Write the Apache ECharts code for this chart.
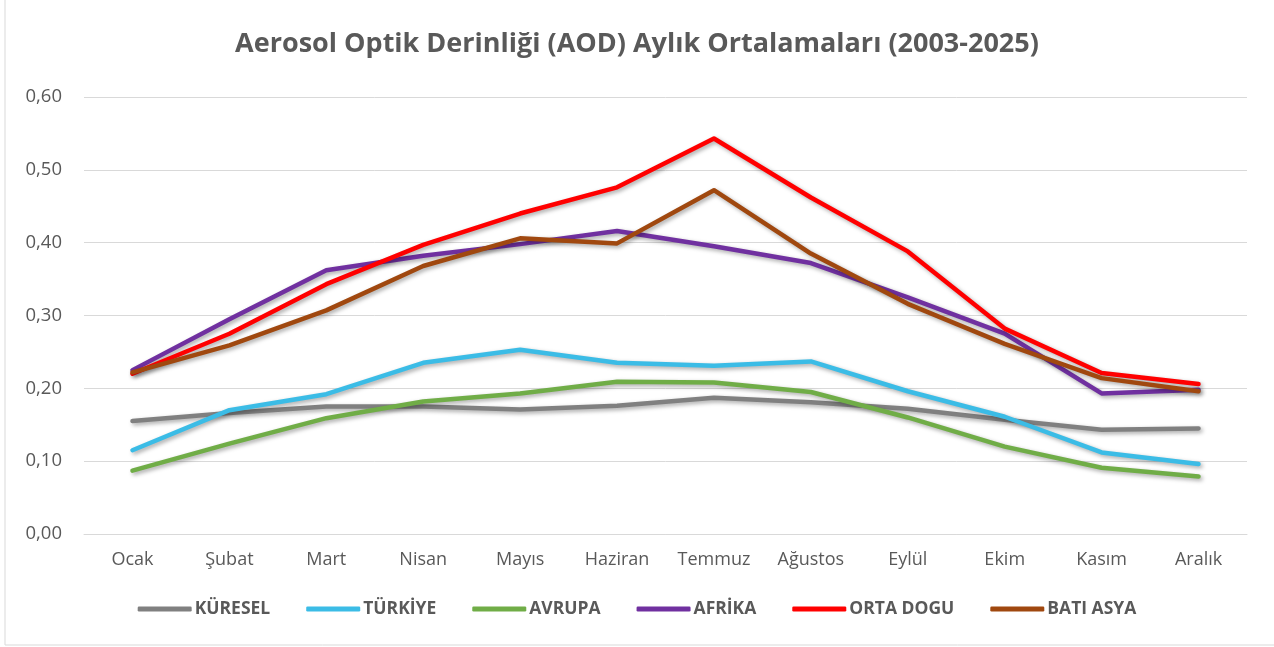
<!DOCTYPE html>
<html>
<head>
<meta charset="utf-8">
<script src="https://cdn.jsdelivr.net/npm/echarts@6/dist/echarts.min.js"></script>
<style>html,body{margin:0;padding:0;background:#fff}#c{width:1274px;height:647px}</style>
</head>
<body>
<div id="c"></div>
<script>
const months = ['Ocak','Şubat','Mart','Nisan','Mayıs','Haziran','Temmuz','Ağustos','Eylül','Ekim','Kasım','Aralık'];
const kuresel  = [0.155,0.166,0.175,0.175,0.171,0.176,0.187,0.181,0.172,0.157,0.143,0.145];
const turkiye  = [0.115,0.170,0.192,0.235,0.253,0.235,0.231,0.237,0.196,0.161,0.112,0.096];
const avrupa   = [0.087,0.124,0.159,0.182,0.193,0.209,0.208,0.195,0.160,0.120,0.091,0.079];
const afrika   = [0.225,0.295,0.362,0.382,0.398,0.416,0.395,0.372,0.325,0.275,0.193,0.198];
const ortaDogu = [0.220,0.275,0.343,0.397,0.440,0.476,0.543,0.462,0.388,0.282,0.221,0.206];
const batiAsya = [0.222,0.259,0.307,0.368,0.406,0.399,0.472,0.385,0.316,0.261,0.214,0.196];
const seriesNames = ['KÜRESEL','TÜRKİYE','AVRUPA','AFRİKA','ORTA DOGU','BATI ASYA'];
const seriesColors = ['#808080','#3BBCE6','#70AD47','#7030A0','#FF0000','#A0480F'];
const seriesData = [kuresel, turkiye, avrupa, afrika, ortaDogu, batiAsya];

const FONT = 'Open Sans';
const chart = echarts.init(document.getElementById('c'), null, {renderer:'canvas'});
chart.setOption({
  backgroundColor: '#fff',
  animation: false,
  textStyle: {fontFamily: FONT},
  title: {
    text: 'Aerosol Optik Derinliği (AOD) Aylık Ortalamaları (2003-2025)',
    left: 'center', top: 26,
    textStyle: {fontFamily: FONT, fontSize: 27, fontWeight: 'bold', color: '#595959'}
  },
  graphic: [{type:'rect', shape:{x:5, y:-5, width:1290, height:650}, style:{fill:'none', stroke:'#D9D9D9', lineWidth:1}, silent:true}],
  legend: {
    bottom: 24, left: 'center',
    itemWidth: 54, itemHeight: 5, itemGap: 36,
    icon: 'roundRect',
    textStyle: {fontFamily: FONT, fontSize: 17.5, fontWeight: 'bold', color: '#595959', padding:[0,0,0,-2]},
    data: seriesNames
  },
  grid: {left: 84, right: 27, top: 97, bottom: 113},
  xAxis: {
    type: 'category', data: months, boundaryGap: true,
    axisLine: {lineStyle: {color: '#D9D9D9', width: 1}},
    axisTick: {show: false},
    axisLabel: {color: '#595959', fontSize: 18, margin: 17, fontFamily: FONT}
  },
  yAxis: {
    type: 'value', min: 0, max: 0.6, interval: 0.1,
    axisLine: {show: false}, axisTick: {show: false},
    splitLine: {lineStyle: {color: '#D9D9D9', width: 1}},
    axisLabel: {color: '#595959', fontSize: 18.5, margin: 22, fontFamily: FONT,
      formatter: v => v.toFixed(2).replace('.', ',')}
  },
  series: seriesNames.map((n, i) => ({
    name: n, type: 'line', data: seriesData[i],
    symbol: 'none', smooth: false,
    itemStyle: {color: seriesColors[i]},
    lineStyle: {color: seriesColors[i], width: 4.5, cap: 'round', join: 'round',
      shadowColor: 'rgba(0,0,0,0.35)', shadowBlur: 4, shadowOffsetX: 2, shadowOffsetY: 2}
  }))
});
</script>
</body>
</html>
